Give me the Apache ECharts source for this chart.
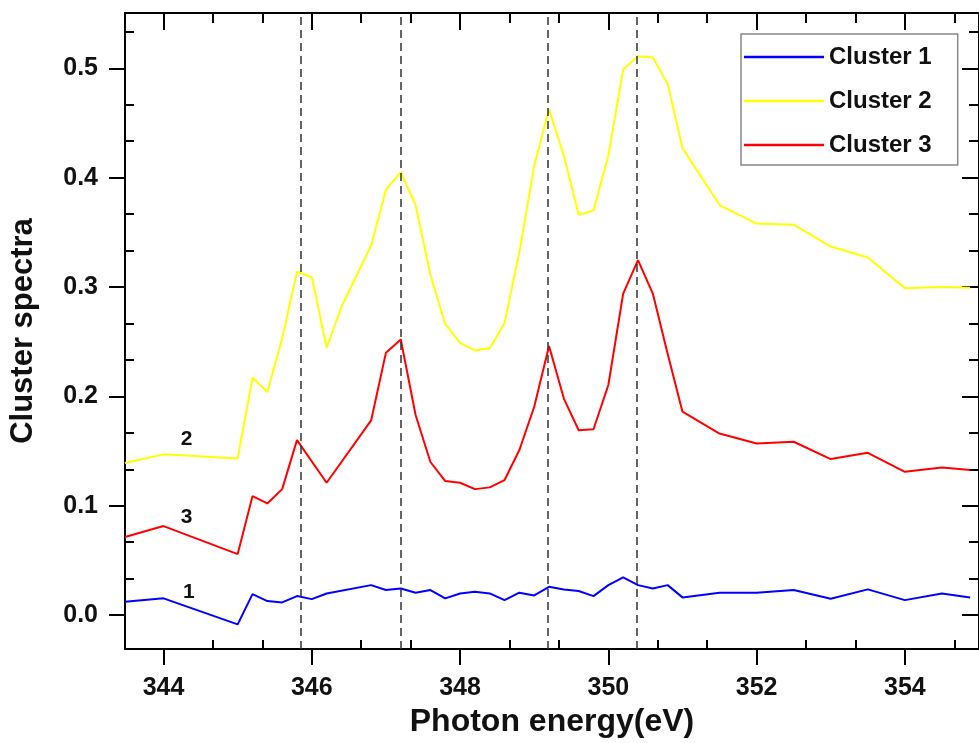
<!DOCTYPE html>
<html>
<head>
<meta charset="utf-8">
<script src="https://cdn.jsdelivr.net/npm/echarts@6/dist/echarts.min.js"></script>
<style>
html,body{margin:0;padding:0;background:#fff;}
#chart{width:979px;height:743px;}
</style>
</head>
<body>
<div id="chart"></div>
<script>
// ---- data ----
const energy = [343.48, 344.0, 345.0, 345.2, 345.4, 345.6, 345.8, 346.0, 346.2, 346.4, 346.8, 347.0, 347.2, 347.4, 347.6, 347.8, 348.0, 348.2, 348.4, 348.6, 348.8, 349.0, 349.2, 349.4, 349.6, 349.8, 350.0, 350.2, 350.4, 350.6, 350.8, 351.0, 351.5, 352.0, 352.5, 353.0, 353.5, 354.0, 354.5, 354.88];
const cluster1 = [0.0122, 0.0153, -0.0085, 0.0192, 0.0128, 0.0116, 0.0174, 0.0146, 0.0198, null, 0.0274, 0.0229, 0.0244, 0.0204, 0.0229, 0.0153, 0.0198, 0.0213, 0.0198, 0.0137, 0.0205, 0.0180, 0.0259, 0.0235, 0.0220, 0.0174, 0.0274, 0.0345, 0.0274, 0.0244, 0.0274, 0.0162, 0.0204, 0.0204, 0.0229, 0.0149, 0.0235, 0.0137, 0.0198, 0.0162];
const cluster2 = [0.139, 0.147, 0.1433, 0.217, 0.204, 0.253, 0.314, 0.309, 0.2445, 0.282, 0.338, 0.389, 0.405, 0.375, 0.311, 0.266, 0.249, 0.242, 0.244, 0.267, 0.332, 0.411, 0.4625, 0.420, 0.366, 0.370, 0.420, 0.499, 0.511, 0.510, 0.486, 0.427, 0.375, 0.358, 0.357, 0.337, 0.327, 0.299, 0.300, 0.2994];
const cluster3 = [0.0715, 0.0814, 0.0558, 0.1088, 0.1021, 0.1152, 0.160, null, 0.121, null, 0.178, 0.240, 0.252, 0.183, 0.140, 0.1226, 0.121, 0.1152, 0.1168, 0.1235, 0.151, 0.1905, 0.246, 0.198, 0.169, 0.170, 0.2104, 0.294, 0.3247, 0.294, 0.239, 0.186, 0.166, 0.157, 0.1585, 0.1427, 0.1484, 0.131, 0.135, 0.1326];
const seriesNames = ['Cluster 1', 'Cluster 2', 'Cluster 3'];
const curveLabels = ['1', '2', '3'];
const curveLabelPos = [[344.34, 0.0213], [344.31, 0.1607], [344.31, 0.0899]];
const peakLines = [345.85, 347.2, 349.18, 350.38];
const xTicks = [344, 346, 348, 350, 352, 354];
const yTicks = [0.0, 0.1, 0.2, 0.3, 0.4, 0.5];
const X_MIN = 343.48, X_MAX = 355.0;
const Y_MIN = -0.031, Y_MAX = 0.5506;

// ---- styling ----
const FONT = '"Liberation Sans", Arial, sans-serif';
const colors = ['#0000ff', '#ffff00', '#ff0000'];

// minor tick positions (thirds between majors)
const xMinor = [];
for (let v = xTicks[0] - 2; v <= X_MAX; v += 2) {
  [2/3, 4/3].forEach(f => { const t = v + f; if (t > X_MIN && t < X_MAX) xMinor.push(+t.toFixed(4)); });
}
const yMinor = [];
for (let k = -3; k <= 18; k++) {
  if (k % 3 === 0) continue;
  const t = k / 30;
  if (t > Y_MIN && t < Y_MAX) yMinor.push(+t.toFixed(5));
}

function pairs(vals) {
  const out = [];
  energy.forEach((e, i) => { if (vals[i] !== null) out.push([e, vals[i]]); });
  return out;
}

const lineAx = {onZero: false, lineStyle: {color: '#000', width: 2}};
function xAx(pos, show, ticks, len, inside, extra) {
  return Object.assign({
    type: 'value', min: X_MIN, max: X_MAX, position: pos, gridIndex: 0,
    splitLine: {show: false},
    axisLine: show ? lineAx : {show: false, onZero: false},
    axisTick: {show: true, inside: inside, length: len, customValues: ticks, lineStyle: {color: '#000', width: 2}},
    axisLabel: {show: false}
  }, extra || {});
}
function yAx(pos, show, ticks, len, inside, extra) {
  return Object.assign({
    type: 'value', min: Y_MIN, max: Y_MAX, position: pos, gridIndex: 0,
    splitLine: {show: false},
    axisLine: show ? lineAx : {show: false, onZero: false},
    axisTick: {show: true, inside: inside, length: len, customValues: ticks, lineStyle: {color: '#000', width: 2}},
    axisLabel: {show: false}
  }, extra || {});
}

const chart = echarts.init(document.getElementById('chart'), null, {renderer: 'canvas'});
const option = {
  animation: false,
  backgroundColor: '#fff',
  grid: {left: 123.5, top: 13, width: 864.7, height: 636, containLabel: false},
  xAxis: [
    xAx('bottom', true, xTicks, 16, false, {
      axisLabel: {show: true, customValues: xTicks, margin: 27, fontFamily: FONT, fontWeight: 'bold', fontSize: 25, color: '#111'},
      name: 'Photon energy(eV)', nameLocation: 'middle', nameGap: 49,
      nameTextStyle: {fontFamily: FONT, fontWeight: 'bold', fontSize: 32, color: '#111'}
    }),
    xAx('bottom', false, xMinor, 9, true),
    xAx('top', true, xTicks, 17, true),
    xAx('top', false, xMinor, 10, true)
  ],
  yAxis: [
    yAx('left', true, yTicks, 16, false, {
      axisLabel: {show: true, customValues: yTicks, margin: 27, fontFamily: FONT, fontWeight: 'bold', fontSize: 25, color: '#111',
        formatter: v => v.toFixed(1)},
      name: 'Cluster spectra', nameLocation: 'middle', nameGap: 86,
      nameTextStyle: {fontFamily: FONT, fontWeight: 'bold', fontSize: 31, color: '#111'}
    }),
    yAx('left', false, yMinor, 9, true),
    yAx('right', true, yTicks, 17, true),
    yAx('right', false, yMinor, 10, true)
  ],
  legend: {
    orient: 'vertical', left: 741, top: 34,
    padding: [11, 26, 8, 3], itemWidth: 80, itemHeight: 2.5, itemGap: 20,
    icon: 'rect',
    borderColor: '#888', borderWidth: 1.5, backgroundColor: '#fff',
    textStyle: {fontFamily: FONT, fontWeight: 'bold', fontSize: 24, color: '#111', lineHeight: 24},
    data: seriesNames
  },
  series: [cluster1, cluster2, cluster3].map((vals, i) => ({
    name: seriesNames[i], type: 'line', xAxisIndex: 0, yAxisIndex: 0,
    data: pairs(vals), symbol: 'none', showSymbol: false, clip: true,
    color: colors[i],
    itemStyle: {color: colors[i]},
    lineStyle: {color: colors[i], width: 2},
    z: 3,
    markPoint: {
      symbol: 'circle', symbolSize: 0, silent: true,
      label: {show: true, formatter: curveLabels[i], position: 'inside', fontFamily: FONT, fontWeight: 'bold', fontSize: 21, color: '#111'},
      data: [{coord: curveLabelPos[i]}]
    },
    markLine: i === 0 ? {
      symbol: 'none', silent: true, label: {show: false},
      lineStyle: {type: [8, 5], color: '#333', width: 1.5},
      data: peakLines.map(x => ({xAxis: x}))
    } : undefined
  }))
};
chart.setOption(option);
</script>
</body>
</html>
